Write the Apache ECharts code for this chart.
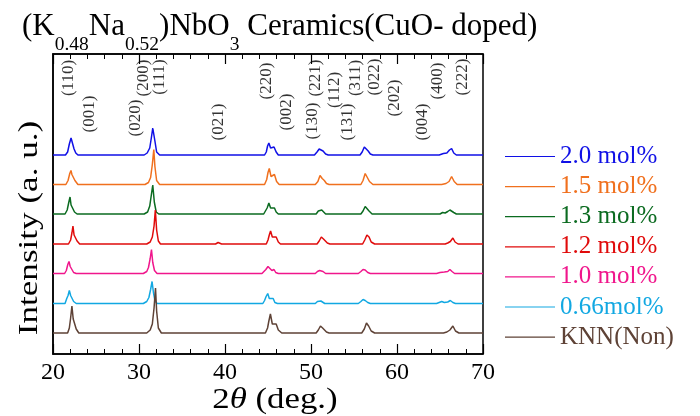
<!DOCTYPE html>
<html>
<head>
<meta charset="utf-8">
<script src="https://cdn.jsdelivr.net/npm/echarts@6/dist/echarts.min.js"></script>
<style>
html, body { margin: 0; padding: 0; background: #fff; }
#main { width: 700px; height: 416px; }
</style>
</head>
<body>
<div id="main"></div>
<script>
var FONT = '"Liberation Serif", "Times New Roman", serif';

// samples, top to bottom
var sampleNames = ['2.0 mol%', '1.5 mol%', '1.3 mol%', '1.2 mol%', '1.0 mol%', '0.66mol%', 'KNN(Non)'];
var sampleColors = ['#1010e6', '#f0701e', '#0b6b20', '#e00b0b', '#f0168c', '#12a8e2', '#5e4236'];
// vertical offset of each trace (stacked plot)
var offsets = [199, 169.5, 140, 110, 80.5, 50.5, 21];

// [2theta, intensity]
var cu20 = [[20,0],[21.45,0],[21.7,3],[21.9,11],[22.1,17],[22.25,15],[22.45,6],[22.65,2],[22.9,0],
  [30.6,0],[30.95,2],[31.25,7],[31.45,18],[31.6,27],[31.7,28],[31.85,14],[32.05,3],[32.4,0],
  [38.7,0],[38.85,1.5],[39.0,0],
  [44.6,0],[44.8,3],[44.95,9],[45.1,12],[45.3,7],[45.5,6],[45.7,8],[45.95,3],[46.2,0],
  [50.4,0],[50.7,3],[50.95,6],[51.15,5],[51.4,4],[51.7,1],[52.0,0],
  [55.7,0],[55.95,3],[56.2,8],[56.4,8],[56.65,4],[56.9,1],[57.2,0],
  [64.9,0],[65.1,1],[65.4,1.5],[65.8,2],[66.1,5],[66.35,6.5],[66.6,2],[66.9,0],[70,0]];
var cu15 = [[20,0],[21.5,0],[21.75,4],[21.95,11],[22.09,14],[22.2,10],[22.35,11],[22.55,4],[22.9,0],
  [30.7,0],[31.1,2],[31.35,7],[31.55,20],[31.72,35],[31.85,18],[32.05,4],[32.4,0],
  [38.8,0],[38.95,1.5],[39.1,0],
  [44.6,0],[44.85,5],[45.0,12],[45.15,16],[45.35,8],[45.55,7],[45.75,10],[46.0,3],[46.3,0],
  [50.5,0],[50.8,3],[51.05,9],[51.3,6],[51.55,4],[51.8,1],[52.1,0],
  [55.8,0],[56.05,4],[56.3,11],[56.5,9],[56.8,3],[57.2,0],
  [65.2,0],[65.7,1],[66.05,3],[66.35,8],[66.65,3],[67.0,0],[70,0]];
var cu13 = [[20,0],[21.4,0],[21.65,4],[21.82,11],[21.98,17],[22.1,9],[22.25,7],[22.5,2],[22.8,0],
  [30.6,0],[31.0,2],[31.25,8],[31.45,20],[31.6,29],[31.78,12],[32.0,2],[32.3,0],
  [38.6,0],[38.7,1.5],[38.8,0],
  [44.5,0],[44.7,2],[44.9,6],[45.1,11],[45.3,6],[45.5,5],[45.75,6],[45.95,2],[46.2,0],
  [50.6,0],[50.85,3],[51.05,5],[51.25,4],[51.45,3],[51.7,0],
  [55.8,0],[56.05,3],[56.3,7.5],[56.5,6],[56.75,3],[57.1,0],
  [65.0,0],[65.3,1.5],[65.6,1],[65.9,2.5],[66.15,4],[66.35,5.5],[66.6,1.5],[66.9,0],[70,0]];
var cu12 = [[20,0],[21.8,0],[22.05,4],[22.2,11],[22.32,18],[22.45,9],[22.6,9],[22.8,3],[23.1,0],
  [30.9,0],[31.3,2],[31.55,7],[31.75,18],[31.9,34],[32.05,14],[32.25,3],[32.5,0],
  [38.9,0],[39.1,0],[39.2,1.5],[39.4,0],[39.6,0],
  [44.8,0],[45.0,4],[45.15,9],[45.3,13],[45.5,7],[45.7,6],[45.95,7],[46.2,2],[46.45,0],
  [50.7,0],[50.95,3],[51.2,7],[51.45,5],[51.65,4],[51.9,1],[52.2,0],
  [56.0,0],[56.25,4],[56.5,9],[56.75,7],[57.0,2],[57.4,0],
  [65.6,0],[65.9,1],[66.2,2.5],[66.5,6],[66.75,2],[67.1,0],[70,0]];
var cu10 = [[20,0],[21.35,0],[21.55,3],[21.72,9],[21.86,12],[22.0,7],[22.15,5],[22.4,1],[22.7,0],
  [30.5,0],[30.9,2],[31.1,6],[31.3,15],[31.45,24],[31.6,11],[31.8,3],[32.1,0],
  [38.9,0],[39.0,1],[39.1,0],
  [44.3,0],[44.5,1],[44.75,4],[45.0,7],[45.2,5],[45.45,3],[45.7,4],[45.9,1],[46.2,0],
  [50.5,0],[50.75,2],[51.0,3],[51.2,2.5],[51.4,2],[51.7,0],
  [55.5,0],[55.8,2],[56.05,4],[56.3,3.5],[56.6,1],[56.9,0],
  [64.6,0],[65.0,1],[65.5,1.5],[65.9,2],[66.15,4],[66.4,2],[66.7,0],[70,0]];
var cu066 = [[20,0],[21.4,0],[21.6,5],[21.75,8],[21.9,13],[22.05,8],[22.2,7],[22.4,2],[22.7,0],
  [30.5,0],[30.9,2],[31.15,6],[31.35,14],[31.52,22],[31.68,11],[31.85,3],[32.1,0],
  [38.7,0],[38.8,1],[38.9,0],
  [44.4,0],[44.6,3],[44.78,7],[44.97,10],[45.15,5],[45.35,4],[45.6,5],[45.8,1],[46.1,0],
  [50.5,0],[50.75,2],[50.97,3],[51.15,2.5],[51.35,2],[51.6,0],
  [55.5,0],[55.8,2],[56.05,4],[56.3,3],[56.6,1],[56.9,0],
  [64.6,0],[64.9,1],[65.2,2],[65.5,1],[65.9,1.5],[66.2,3],[66.5,1],[66.8,0],[70,0]];
var knn = [[20,0],[21.7,0],[21.9,5],[22.05,15],[22.2,27],[22.35,14],[22.5,13],[22.7,4],[23.0,0],
  [30.9,0],[31.3,3],[31.55,9],[31.75,25],[31.92,45],[32.05,22],[32.25,5],[32.6,0],
  [38.9,0],[39.0,1],[39.1,0],
  [44.7,0],[44.95,5],[45.1,12],[45.28,19],[45.5,9],[45.7,7],[45.95,9],[46.2,3],[46.6,0],
  [50.6,0],[50.85,3],[51.1,7],[51.35,5],[51.55,4],[51.8,1],[52.1,0],
  [55.9,0],[56.2,4],[56.45,10],[56.7,7],[57.0,2],[57.4,0],
  [65.4,0],[65.8,1],[66.15,3],[66.5,7],[66.8,2],[67.2,0],[70,0]];
var patterns = [cu20, cu15, cu13, cu12, cu10, cu066, knn];

// Miller index labels: text and [2theta, height] of the label centre
var hklText = ['(110)', '(001)', '(020)', '(200)', '(111)', '(021)', '(220)', '(002)', '(130)',
  '(221)', '(112)', '(131)', '(311)', '(022)', '(202)', '(004)', '(400)', '(222)'];
var hklPos = [[21.86, 276], [24.19, 240], [29.65, 236], [30.58, 276], [32.44, 277], [39.19, 232],
  [44.88, 273], [47.21, 242], [50.12, 233], [50.47, 276], [52.79, 264], [54.30, 232],
  [55.12, 276], [57.44, 277], [59.77, 256], [63.02, 232], [64.77, 273], [67.67, 277]];

var myChart = echarts.init(document.getElementById('main'));

var series = patterns.map(function (pts, i) {
    return {
        name: sampleNames[i],
        type: 'line',
        symbol: 'none',
        silent: true,
        lineStyle: { color: sampleColors[i], width: 1.5 },
        itemStyle: { color: sampleColors[i] },
        data: pts.map(function (p) { return [p[0], p[1] + offsets[i]]; })
    };
});
series.push({
    name: 'hkl',
    type: 'scatter',
    symbolSize: 0,
    silent: true,
    data: hklPos.map(function (p, i) { return [p[0], p[1], hklText[i]]; }),
    label: {
        show: true,
        position: 'inside',
        rotate: 90,
        formatter: function (d) { return d.value[2]; },
        fontFamily: FONT,
        fontSize: 17,
        color: '#000'
    }
});

var xCommon = {
    type: 'value',
    min: 20,
    max: 70,
    interval: 10,
    axisLine: { show: true, lineStyle: { color: '#000', width: 1.5 } },
    axisTick: { show: true, inside: true, length: 10, lineStyle: { color: '#000', width: 1.2 } },
    minorTick: { show: true, splitNumber: 5, length: 5, lineStyle: { color: '#000', width: 1 } },
    splitLine: { show: false }
};

var option = {
    animation: false,
    backgroundColor: '#fff',
    title: {
        text: '{m|(K}{s|0.48}{m|Na}{s|0.52}{m|)NbO}{s|3}{m| Ceramics(CuO- doped)}',
        left: 22,
        top: 11,
        padding: 0,
        textStyle: {
            fontFamily: FONT,
            fontWeight: 'normal',
            color: '#000',
            rich: {
                m: { fontFamily: FONT, fontWeight: 'normal', fontSize: 31, lineHeight: 31, verticalAlign: 'top', color: '#000' },
                s: { fontFamily: FONT, fontWeight: 'normal', fontSize: 19.5, verticalAlign: 'top', padding: [24, 0, 0, 0], color: '#000' }
            }
        }
    },
    legend: {
        orient: 'vertical',
        left: 505,
        top: 144,
        padding: 0,
        icon: 'rect',
        itemWidth: 50,
        itemHeight: 1.2,
        itemGap: 5.1,
        selectedMode: false,
        textStyle: { fontFamily: FONT, fontSize: 25, lineHeight: 22 },
        data: sampleNames.map(function (n, i) {
            return { name: n, textStyle: { color: sampleColors[i] } };
        })
    },
    grid: {
        left: 53, right: 217, top: 54, bottom: 62,
        outerBoundsMode: 'none',
        show: true, borderColor: '#000', borderWidth: 1.5
    },
    xAxis: [
        Object.assign({}, xCommon, {
            position: 'bottom',
            axisLabel: { fontFamily: FONT, fontSize: 24, color: '#000', margin: 7 }
        }),
        Object.assign({}, xCommon, {
            position: 'top',
            axisLabel: { show: false }
        })
    ],
    yAxis: {
        type: 'value',
        min: 0,
        max: 300,
        axisLine: { show: true, lineStyle: { color: '#000', width: 1.5 } },
        axisTick: { show: false },
        axisLabel: { show: false },
        splitLine: { show: false }
    },
    graphic: [{
        // y axis title
        type: 'text',
        x: 30,
        y: 228,
        rotation: Math.PI / 2,
        scaleX: 1.3,
        style: {
            text: 'Intensity (a. u.)',
            fontFamily: FONT,
            fontSize: 27,
            fill: '#000',
            align: 'center',
            verticalAlign: 'middle'
        }
    }, {
        // x axis title
        type: 'text',
        x: 275,
        y: 400,
        scaleX: 1.2,
        style: {
            text: '2{i|θ} (deg.)',
            fontFamily: FONT,
            fontSize: 29,
            fill: '#000',
            align: 'center',
            verticalAlign: 'middle',
            rich: {
                i: { fontFamily: FONT, fontSize: 29, fontStyle: 'italic', fill: '#000' }
            }
        }
    }],
    series: series
};

myChart.setOption(option);
</script>
</body>
</html>
